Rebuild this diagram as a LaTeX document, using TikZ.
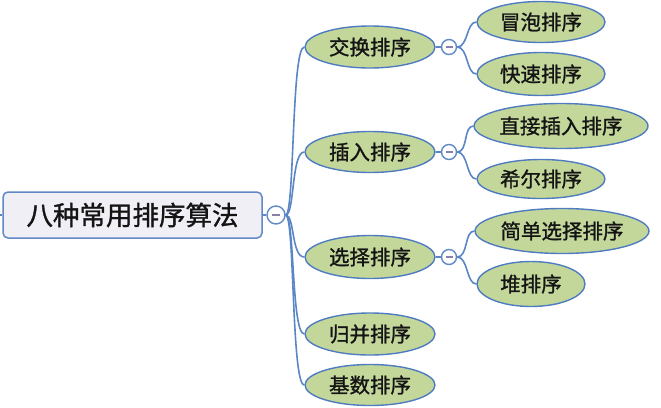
\documentclass[tikz,border=0pt]{standalone}
\usepackage{fontspec}
\newfontfamily\cjk[FakeBold=1.2]{Noto Sans CJK SC}
\usetikzlibrary{shapes.geometric}
\definecolor{leaf}{HTML}{C4D79B}
\definecolor{edge}{HTML}{4F7CC0}
\definecolor{lnk}{HTML}{5B86C6}
\definecolor{rootfill}{HTML}{EFEFF5}
\definecolor{txt}{HTML}{141414}
\definecolor{minus}{HTML}{8A7FA8}
\tikzset{
  rootbox/.style={draw=edge!90, line width=1.5pt, fill=rootfill, rounded corners=5pt,
    minimum width=259pt, minimum height=46pt, inner sep=0pt,
    font=\cjk\fontsize{26.5}{30}\selectfont, text=txt},
  topic/.style={ellipse, draw=edge, line width=1.4pt, fill=leaf, inner sep=0pt,
    font=\cjk\fontsize{20.5}{23}\selectfont, text=txt},
  toggle/.style={circle, draw=edge!90, line width=1.4pt, fill=white, inner sep=0pt},
  link/.style={draw=lnk, line width=1.6pt},
}
\newcommand{\minussign}[2]{\draw[minus, line width=1.5pt] ([xshift=-#2]#1.center) -- ([xshift=#2]#1.center);}
\begin{document}
\begin{tikzpicture}[x=1pt,y=-1pt]
\useasboundingbox (0,0) rectangle (661,407);
% root
\node[rootbox] (root) at (132.5,215) {八种常用排序算法};
\coordinate (stub) at (0,215);
\node[toggle, minimum size=18pt] (t0) at (276,215) {};
% level 1
\node[topic, minimum width=130pt, minimum height=42pt] (a) at (370,47) {交换排序};
\node[topic, minimum width=130pt, minimum height=41pt] (b) at (370,152) {插入排序};
\node[topic, minimum width=130pt, minimum height=43pt] (c) at (370,257) {选择排序};
\node[topic, minimum width=130pt, minimum height=42pt] (d) at (370,334) {归并排序};
\node[topic, minimum width=130pt, minimum height=41pt] (e) at (370,385) {基数排序};
% toggles level 1
\node[toggle, minimum size=15pt] (ta) at (449,47) {};
\node[toggle, minimum size=15pt] (tb) at (449,152) {};
\node[toggle, minimum size=15pt] (tc) at (449,257) {};
% level 2
\node[topic, minimum width=128pt, minimum height=41pt] (a1) at (541,22) {冒泡排序};
\node[topic, minimum width=128pt, minimum height=43pt] (a2) at (541,74) {快速排序};
\node[topic, minimum width=168pt, minimum height=45pt] (b1) at (561,126) {直接插入排序};
\node[topic, minimum width=128pt, minimum height=39pt] (b2) at (541,179) {希尔排序};
\node[topic, minimum width=170pt, minimum height=45pt] (c1) at (562,231) {简单选择排序};
\node[topic, minimum width=108pt, minimum height=45pt] (c2) at (531,284) {堆排序};
% links
\draw[link] (stub) -- (root.west);
\draw[link] (root.east) -- (t0.west);
\foreach \n in {a,b,c,d,e}{
  \draw[link] (t0.east) .. controls +(9,0) and +(-13,0) .. (\n.west);
}
\draw[link] (a.east) -- (ta.west);
\draw[link] (b.east) -- (tb.west);
\draw[link] (c.east) -- (tc.west);
\draw[link] (ta.east) .. controls +(11,0) and +(-10,0) .. (a1.west);
\draw[link] (ta.east) .. controls +(11,0) and +(-10,0) .. (a2.west);
\draw[link] (tb.east) .. controls +(11,0) and +(-10,0) .. (b1.west);
\draw[link] (tb.east) .. controls +(11,0) and +(-10,0) .. (b2.west);
\draw[link] (tc.east) .. controls +(11,0) and +(-10,0) .. (c1.west);
\draw[link] (tc.east) .. controls +(11,0) and +(-10,0) .. (c2.west);
% minus signs
\minussign{t0}{4pt}
\minussign{ta}{3.5pt}
\minussign{tb}{3.5pt}
\minussign{tc}{3.5pt}
\end{tikzpicture}
\end{document}
